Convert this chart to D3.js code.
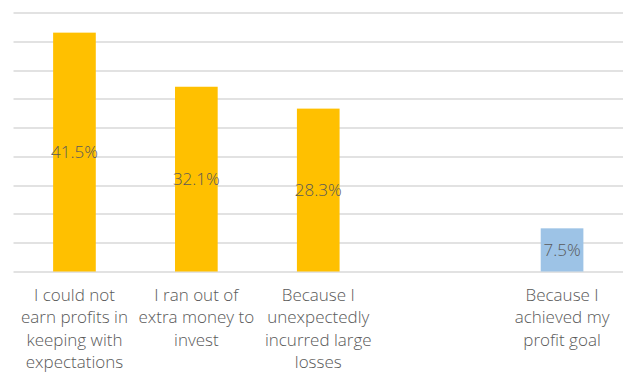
<!DOCTYPE html>
<html>
<head>
<meta charset="utf-8">
<script src="https://cdn.jsdelivr.net/npm/d3@7"></script>
<style>
  html, body { margin: 0; padding: 0; background: #fff; }
  svg { display: block; }
  text { font-family: "Open Sans", Roboto, "Liberation Sans", sans-serif; font-weight: 300; fill: #595959; }
</style>
</head>
<body>
<svg id="chart" width="623" height="375"></svg>
<script>
// Reasons for stopping, share of respondents (%)
const categories = [
  "I could not earn profits in keeping with expectations",
  "I ran out of extra money to invest",
  "Because I unexpectedly incurred large losses",
  "",
  "Because I achieved my profit goal"
];
const labelLines = [
  ["I could not", "earn profits in", "keeping with", "expectations"],
  ["I ran out of", "extra money to", "invest"],
  ["Because I", "unexpectedly", "incurred large", "losses"],
  [],
  ["Because I", "achieved my", "profit goal"]
];
const values = [41.5, 32.1, 28.3, null, 7.5];
const groups = ["loss", "loss", "loss", "none", "goal"];
const yTicks = [0, 5, 10, 15, 20, 25, 30, 35, 40, 45];

const colorOf = { loss: "#FFC000", goal: "#9DC3E6", none: "none" };

const svg = d3.select("#chart");
const margin = { top: 12.5, right: 0, bottom: 103.5, left: 13.5 };
const width = 623 - margin.left - margin.right;
const height = 375 - margin.top - margin.bottom;

const g = svg.append("g").attr("transform", `translate(${margin.left},${margin.top})`);

const x = d3.scaleBand().domain(categories.map((c, i) => i)).range([0, width]).paddingInner(0.65).paddingOuter(0.325);
const y = d3.scaleLinear().domain([0, 45]).range([height, 0]);

// horizontal gridlines
g.append("g")
  .selectAll("line")
  .data(yTicks)
  .join("line")
  .attr("x1", 0).attr("x2", width)
  .attr("y1", d => Math.round(y(d)) + 0.5).attr("y2", d => Math.round(y(d)) + 0.5)
  .attr("stroke", "#d9d9d9")
  .attr("stroke-width", 1.3);

// bars
const rows = values.map((v, i) => ({ i, v, grp: groups[i] })).filter(d => d.v != null);
g.append("g")
  .selectAll("rect")
  .data(rows)
  .join("rect")
  .attr("x", d => x(d.i))
  .attr("width", x.bandwidth())
  .attr("y", d => y(d.v))
  .attr("height", d => y(0) - y(d.v))
  .attr("fill", d => colorOf[d.grp]);

// value labels, centred inside each bar
g.append("g")
  .selectAll("text")
  .data(rows)
  .join("text")
  .attr("x", d => x(d.i) + x.bandwidth() / 2)
  .attr("y", d => (y(d.v) + y(0)) / 2)
  .attr("dy", "0.35em")
  .attr("text-anchor", "middle")
  .style("font-size", "17px")
  .text(d => d.v.toFixed(1) + "%");

// category labels, wrapped onto several lines
const xAxis = g.append("g").attr("transform", `translate(0,${height})`);
xAxis.selectAll("text")
  .data(labelLines.map((lines, i) => ({ i, lines })))
  .join("text")
  .attr("text-anchor", "middle")
  .style("font-size", "17px")
  .attr("transform", d => `translate(${x(d.i) + x.bandwidth() / 2},0)`)
  .selectAll("tspan")
  .data(d => d.lines)
  .join("tspan")
  .attr("x", 0)
  .attr("y", (d, k) => 29 + k * 22.5)
  .text(d => d);
</script>
</body>
</html>
